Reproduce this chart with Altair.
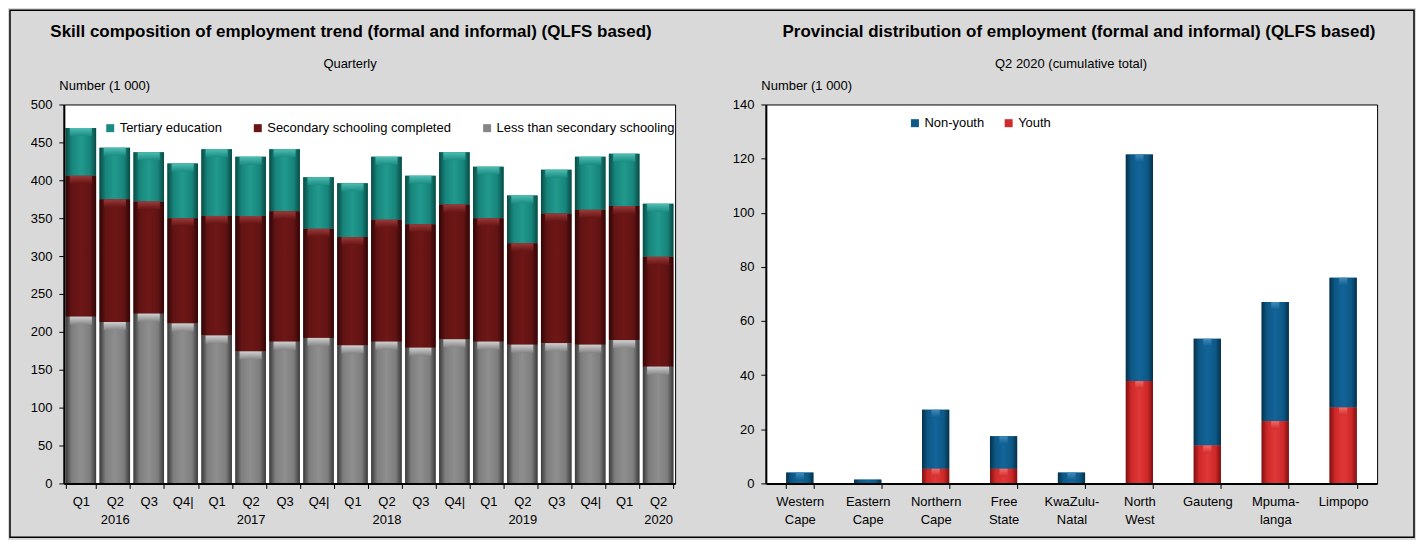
import altair as alt
import pandas as pd

# ---------------- data: left chart ----------------
quarters = ["Q1", "Q2", "Q3", "Q4|", "Q1", "Q2", "Q3", "Q4|", "Q1", "Q2", "Q3", "Q4|",
            "Q1", "Q2", "Q3", "Q4|", "Q1", "Q2"]
years = ["2016"] * 4 + ["2017"] * 4 + ["2018"] * 4 + ["2019"] * 4 + ["2020"] * 2
less_than_secondary = [220, 213, 224, 211, 195, 174, 187, 192, 182, 187, 179, 190, 187, 183, 185, 183, 189, 154]
secondary_completed = [186, 162, 148, 139, 158, 179, 172, 144, 143, 161, 163, 178, 163, 134, 171, 178, 177, 145]
tertiary_education = [63, 68, 65, 72, 88, 78, 82, 68, 71, 83, 64, 69, 68, 63, 58, 70, 69, 70]

skill_series = ["Tertiary education", "Secondary schooling completed", "Less than secondary schooling"]
skill_colors = ["#1b8a80", "#6b1515", "#868686"]

# ---------------- data: right chart ----------------
provinces = ["Western\nCape", "Eastern\nCape", "Northern\nCape", "Free\nState", "KwaZulu-\nNatal",
             "North\nWest", "Gauteng", "Mpuma-\nlanga", "Limpopo"]
youth = [0, 0, 5.4, 5.4, 0, 37.8, 14, 23, 28]
non_youth = [4, 1.4, 21.8, 12, 4, 83.7, 39.4, 44, 48]

age_series = ["Non-youth", "Youth"]
age_colors = ["#0f5a87", "#d12b2b"]

# ---------------- titles ----------------
left_title = "Skill composition of employment trend (formal and informal) (QLFS based)"
left_subtitle = "Quarterly"
right_title = "Provincial distribution of employment (formal and informal) (QLFS based)"
right_subtitle = "Q2  2020 (cumulative total)"
y_title = "Number (1 000)"

FONT = "Liberation Sans"

# ---------------- tables ----------------
period_keys = [f"{q} {y}" for q, y in zip(quarters, years)]
rows = []
for i, key in enumerate(period_keys):
    rows.append({"period": key, "series": skill_series[2], "value": less_than_secondary[i], "order": 0})
    rows.append({"period": key, "series": skill_series[1], "value": secondary_completed[i], "order": 1})
    rows.append({"period": key, "series": skill_series[0], "value": tertiary_education[i], "order": 2})
skill_df = pd.DataFrame(rows)

rows = []
for i, p in enumerate(provinces):
    rows.append({"province": p, "series": "Youth", "value": youth[i], "order": 0})
    rows.append({"province": p, "series": "Non-youth", "value": non_youth[i], "order": 1})
age_df = pd.DataFrame(rows)


def grad(edge, base, mid):
    return alt.Gradient(
        gradient="linear", x1=0, x2=1, y1=0, y2=0,
        stops=[
            alt.GradientStop(color=edge, offset=0),
            alt.GradientStop(color=base, offset=0.2),
            alt.GradientStop(color=mid, offset=0.5),
            alt.GradientStop(color=base, offset=0.8),
            alt.GradientStop(color=edge, offset=1),
        ],
    )


def vgrad(light, base):
    return alt.Gradient(
        gradient="linear", x1=0, x2=0, y1=0, y2=1,
        stops=[alt.GradientStop(color=light, offset=0), alt.GradientStop(color=base, offset=1)],
    )


skill_grads = {
    "Tertiary education": grad("#0a4a45", "#17857b", "#22998e"),
    "Secondary schooling completed": grad("#300606", "#621313", "#6e1717"),
    "Less than secondary schooling": grad("#3a3a3a", "#7e7e7e", "#8e8e8e"),
}
skill_caps = {
    "Tertiary education": vgrad("#4fbdb2", "#1a8c82"),
    "Secondary schooling completed": vgrad("#9a3a3a", "#661414"),
    "Less than secondary schooling": vgrad("#d0d0d0", "#858585"),
}
age_grads = {
    "Non-youth": grad("#06304a", "#0d5986", "#13649a"),
    "Youth": grad("#7e1010", "#cf2828", "#e03838"),
}
age_caps = {
    "Non-youth": vgrad("#3f8cbc", "#0f5d8c"),
    "Youth": vgrad("#f26a6a", "#d22c2c"),
}

axis_common = dict(
    labelFont=FONT, labelFontSize=13, labelColor="black",
    titleFont=FONT, titleFontSize=13, titleColor="black", titleFontWeight="normal",
    domainColor="black", domainWidth=2, tickColor="black", tickSize=5, grid=False, zindex=1,
)

WIDTH = 613
HEIGHT = 380

legend_common = dict(
    title=None, orient="none", direction="horizontal", symbolType="square", symbolSize=64,
    symbolStrokeWidth=0, labelFont=FONT, labelFontSize=13, labelColor="black", labelOffset=3,
    labelLimit=0,
)

# ---------------- left chart ----------------
x_left = alt.X(
    "period:N",
    scale=alt.Scale(domain=period_keys, paddingInner=0.1, paddingOuter=0.05),
    axis=alt.Axis(
        title=None, labelAngle=0, tickBand="extent", labelPadding=7, labelLineHeight=18,
        labelExpr="indexof(datum.label, 'Q2') == 0 ? split(datum.label, ' ') : split(datum.label, ' ')[0]",
        **axis_common,
    ),
)
y_left = alt.Y(
    "y1:Q",
    scale=alt.Scale(domain=[0, 500], nice=False),
    axis=alt.Axis(
        values=list(range(0, 501, 50)), title=y_title, titleAngle=0, titleX=-5, titleY=-15,
        titleAlign="left", titleBaseline="alphabetic", labelPadding=7, **axis_common,
    ),
)

skill_base = alt.Chart(skill_df).transform_stack(
    stack="value", groupby=["period"], as_=["y0", "y1"], sort=[alt.SortField("order", order="ascending")]
)

skill_solid = skill_base.mark_bar().encode(
    x=x_left, y=y_left, y2="y0:Q",
    color=alt.Color(
        "series:N",
        scale=alt.Scale(domain=skill_series, range=skill_colors),
        legend=alt.Legend(legendX=40, legendY=17, columnPadding=29, **legend_common),
    ),
)
skill_layers = [
    skill_base.transform_filter(alt.datum.series == s).mark_bar(fill=skill_grads[s]).encode(
        x=x_left, y=y_left, y2="y0:Q"
    )
    for s in skill_series
]
skill_cap_layers = [
    skill_base.transform_filter((alt.datum.series == s) & (alt.datum.value > 0)).mark_bar(
        fill=skill_caps[s], y2Offset=8, width=alt.RelativeBandSize(0.72)
    ).encode(x=x_left, y=y_left, y2="y1:Q")
    for s in skill_series
]

one = alt.Data(values=[{}])
border = alt.Chart(one).mark_rect(fill="transparent", stroke="black", strokeWidth=1.5).encode(
    x=alt.value(-54), x2=alt.value(1354), y=alt.value(-94.5), y2=alt.value(434)
)


def title_text(text, x, y, size, weight):
    return alt.Chart(one).mark_text(
        text=text, font=FONT, fontSize=size, fontWeight=weight, color="black",
        align="center", baseline="alphabetic",
    ).encode(x=alt.value(x), y=alt.value(y))


titles = [
    title_text(left_title, 288, -68, 17, "bold"),
    title_text(left_subtitle, 287, -37, 13, "normal"),
    title_text(right_title, 1018, -68, 17, "bold"),
    title_text(right_subtitle, 1010, -37, 13, "normal"),
]

left = alt.layer(border, *titles, skill_solid, *skill_layers, *skill_cap_layers).properties(
    width=WIDTH, height=HEIGHT
)

# ---------------- right chart ----------------
x_right = alt.X(
    "province:N",
    scale=alt.Scale(domain=provinces, paddingInner=0.6, paddingOuter=0.3),
    axis=alt.Axis(
        title=None, labelAngle=0, tickBand="extent", labelPadding=7, labelLineHeight=18,
        labelExpr="split(datum.label, '\\n')", **axis_common,
    ),
)
y_right = alt.Y(
    "y1:Q",
    scale=alt.Scale(domain=[0, 140], nice=False),
    axis=alt.Axis(
        values=list(range(0, 141, 20)), title=y_title, titleAngle=0, titleX=-5, titleY=-15,
        titleAlign="left", titleBaseline="alphabetic", labelPadding=7, **axis_common,
    ),
)

age_base = alt.Chart(age_df).transform_stack(
    stack="value", groupby=["province"], as_=["y0", "y1"], sort=[alt.SortField("order", order="ascending")]
)
age_solid = age_base.mark_bar().encode(
    x=x_right, y=y_right, y2="y0:Q",
    color=alt.Color(
        "series:N",
        scale=alt.Scale(domain=age_series, range=age_colors),
        legend=alt.Legend(legendX=143, legendY=12, columnPadding=18, **legend_common),
    ),
)
age_layers = [
    age_base.transform_filter(alt.datum.series == s).mark_bar(fill=age_grads[s]).encode(
        x=x_right, y=y_right, y2="y0:Q"
    )
    for s in age_series
]
age_cap_layers = [
    age_base.transform_filter((alt.datum.series == s) & (alt.datum.value > 2)).mark_bar(
        fill=age_caps[s], y2Offset=8, width=alt.RelativeBandSize(0.3)
    ).encode(x=x_right, y=y_right, y2="y1:Q")
    for s in age_series
]

right = alt.layer(age_solid, *age_layers, *age_cap_layers).properties(width=WIDTH, height=HEIGHT)

chart = alt.hconcat(left, right, spacing=91, bounds="flush").properties(
    padding=0, background="#d9d9d9"
).configure_view(fill="white", stroke="black", strokeWidth=1).resolve_scale(color="independent")

chart.save("out.html", embed_options={"renderer": "svg", "actions": False})
